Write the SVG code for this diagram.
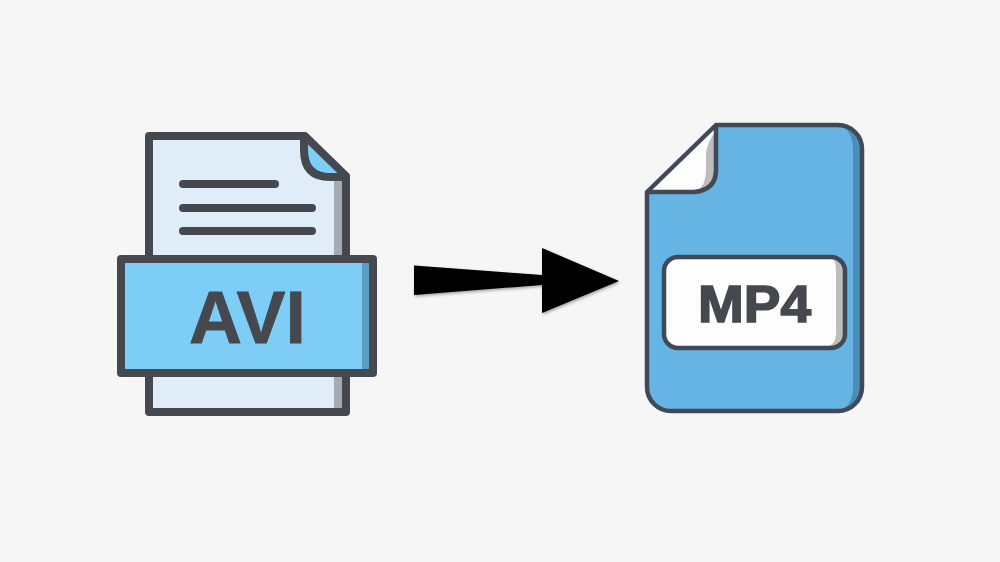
<svg xmlns="http://www.w3.org/2000/svg" width="1000" height="562" viewBox="0 0 1000 562">
<defs>
<style>
.ink{stroke:#45494f;stroke-linejoin:round;stroke-linecap:round}
.txt{font-family:"Liberation Sans",Arial,sans-serif;font-weight:700;fill:#45494f;stroke:#45494f}
</style>
<filter id="soft" x="-5%" y="-5%" width="110%" height="110%"><feGaussianBlur stdDeviation="0.7"/></filter>
<filter id="shadow" x="-5%" y="-10%" width="110%" height="125%"><feDropShadow dx="1" dy="1.5" stdDeviation="1.5" flood-color="#000" flood-opacity="0.35"/></filter>
</defs>
<rect width="1000" height="562" fill="#f6f6f6"/>
<g id="avi-file" filter="url(#soft)">
<path d="M149 136H305L346 176V412H149Z" fill="#e0edf9"/>
<rect x="334" y="176" width="8" height="236" fill="#a5abb2"/>
<path d="M305 136L346 176H326Q303 176 303 150V136Z" fill="#7ccff5"/>
<path d="M305 136L346 176V412H149V136Z" fill="none" class="ink" stroke-width="8"/>
<path d="M304 137V150Q304 177 330 177H346" fill="none" class="ink" stroke-width="8"/>
<path d="M183 184H275M183 208H312M183 231H312" fill="none" class="ink" stroke-width="8"/>
<rect x="121" y="259" width="252" height="114" fill="#7dcdf6"/>
<rect x="362" y="262" width="8" height="108" fill="#5c9ec2"/>
<rect x="121" y="259" width="252" height="114" fill="none" class="ink" stroke-width="8"/>
<text class="txt" x="189" y="343" font-size="74" stroke-width="0.8" textLength="117" lengthAdjust="spacingAndGlyphs">AVI</text>
</g>
<g id="mp4-file" filter="url(#soft)">
<path d="M716 125H838A24 24 0 0 1 862 149V387A24 24 0 0 1 838 411H671A24 24 0 0 1 647 387V192Z" fill="#66b4e3"/>
<path d="M838 125C848 128 853 136 853 150V387C853 400 848 408 838 411A24 24 0 0 0 862 387V149A24 24 0 0 0 838 125Z" fill="#4b8db9"/>
<path d="M716 125L647 192H694Q716 190 716 170Z" fill="#fdfdfd"/>
<path d="M706 152Q708 142 716 130V170Q716 190 694 192H696Q706 186 706 170Z" fill="#bdbdbd"/>
<path d="M716 125H838A24 24 0 0 1 862 149V387A24 24 0 0 1 838 411H671A24 24 0 0 1 647 387V192Z" fill="none" stroke="#3f4a55" stroke-width="4.500" stroke-linejoin="round"/>
<path d="M647 192H694Q716 190 716 170V125" fill="none" stroke="#3f4a55" stroke-width="4.500"/>
<rect x="664" y="257" width="181" height="91" rx="14" fill="#fdfdfd"/>
<path d="M832 258Q845 258 845 272V334Q845 347 832 347H826Q836 345 836 334V272Q836 260 832 258Z" fill="#bdbdbd"/>
<rect x="664" y="257" width="181" height="91" rx="14" fill="none" stroke="#3f4a55" stroke-width="4.500"/>
<text class="txt" x="698" y="322" font-size="52" stroke-width="1.600" textLength="113" lengthAdjust="spacingAndGlyphs">MP4</text>
</g>
<g id="connectors">
<path d="M414 265.500L542 275V248L619 281L542 313V285L414 295Z" fill="#000" filter="url(#shadow)"/>
</g>
</svg>
